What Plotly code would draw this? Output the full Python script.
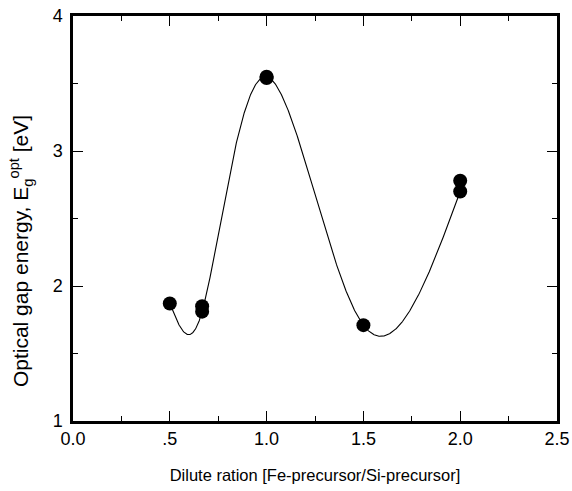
import numpy as np
import plotly.graph_objects as go

# measured points
x_pts = [0.5, 0.667, 0.667, 1.0, 1.0, 1.5, 2.0, 2.0]
y_pts = [1.87, 1.85, 1.81, 3.55, 3.54, 1.71, 2.78, 2.70]

# knots of the smooth guide curve
x_knots = [0.5, 0.667, 1.0, 1.5, 2.0]
y_knots = [1.87, 1.81, 3.55, 1.71, 2.70]

x_ticks = [0.0, 0.5, 1.0, 1.5, 2.0, 2.5]
x_ticklabels = ["0.0", ".5", "1.0", "1.5", "2.0", "2.5"]
y_ticks = [1, 2, 3, 4]
y_ticklabels = ["1", "2", "3", "4"]


def natural_cubic_spline(tk, yk, ts):
    tk = np.asarray(tk, float)
    yk = np.asarray(yk, float)
    n = len(tk)
    h = np.diff(tk)
    A = np.zeros((n, n))
    b = np.zeros(n)
    A[0, 0] = 1
    A[-1, -1] = 1
    for i in range(1, n - 1):
        A[i, i - 1] = h[i - 1]
        A[i, i] = 2 * (h[i - 1] + h[i])
        A[i, i + 1] = h[i]
        b[i] = 3 * ((yk[i + 1] - yk[i]) / h[i] - (yk[i] - yk[i - 1]) / h[i - 1])
    c = np.linalg.solve(A, b)
    out = []
    for t in ts:
        i = int(min(max(np.searchsorted(tk, t) - 1, 0), n - 2))
        dt = t - tk[i]
        bb = (yk[i + 1] - yk[i]) / h[i] - h[i] * (2 * c[i] + c[i + 1]) / 3
        d = (c[i + 1] - c[i]) / (3 * h[i])
        out.append(yk[i] + bb * dt + c[i] * dt ** 2 + d * dt ** 3)
    return np.array(out)


def parametric(xk, yk, sx, sy, alpha):
    px = np.asarray(xk) * sx
    py = np.asarray(yk) * sy
    d = np.hypot(np.diff(px), np.diff(py)) ** alpha
    t = np.concatenate([[0], np.cumsum(d)])
    ts = np.linspace(0, t[-1], 800)
    return (natural_cubic_spline(t, px, ts) / sx, natural_cubic_spline(t, py, ts) / sy)


SX, SY = 193.6, 135.0
xs, ys = parametric(x_knots, y_knots, SX, SY, 0.15)

font = "Liberation Sans, Arial, sans-serif"

fig = go.Figure()
fig.add_trace(go.Scatter(x=xs, y=ys, mode="lines", line=dict(color="black", width=1.1),
                         hoverinfo="skip"))
fig.add_trace(go.Scatter(x=x_pts, y=y_pts, mode="markers",
                         marker=dict(color="black", size=14)))

axis_common = dict(
    showgrid=False, zeroline=False, showline=True, linecolor="black", linewidth=2.5,
    mirror="ticks", ticks="inside", ticklen=10, tickwidth=1.2, tickcolor="black",
    tickfont=dict(family=font, size=18, color="black"), automargin=False,
)

fig.update_xaxes(range=[0, 2.5], tickvals=x_ticks, ticktext=x_ticklabels,
                 minor=dict(ticks="inside", ticklen=5, tickwidth=1, tickcolor="black", dtick=0.25,
                            tick0=0),
                 title=dict(text="Dilute ration [Fe-precursor/Si-precursor]",
                            font=dict(family=font, size=16.5, color="black"), standoff=22),
                 **axis_common)
fig.update_yaxes(range=[1, 4], tickvals=y_ticks, ticktext=y_ticklabels,
                 minor=dict(ticks="inside", ticklen=5, tickwidth=1, tickcolor="black", dtick=0.5,
                            tick0=1),
                 ticklabelstandoff=4,
                 **axis_common)

fig.add_annotation(text="Optical gap energy, E<sub>g</sub><sup>opt</sup> [eV]",
                   xref="paper", yref="paper", x=-0.107, y=0.42, xanchor="center", yanchor="middle",
                   textangle=-90, showarrow=False,
                   font=dict(family=font, size=21, color="black"))

fig.update_layout(
    width=572, height=491,
    margin=dict(l=73, r=15, t=16, b=70),
    paper_bgcolor="white", plot_bgcolor="white",
    showlegend=False,
)

fig.write_html("out.html")
